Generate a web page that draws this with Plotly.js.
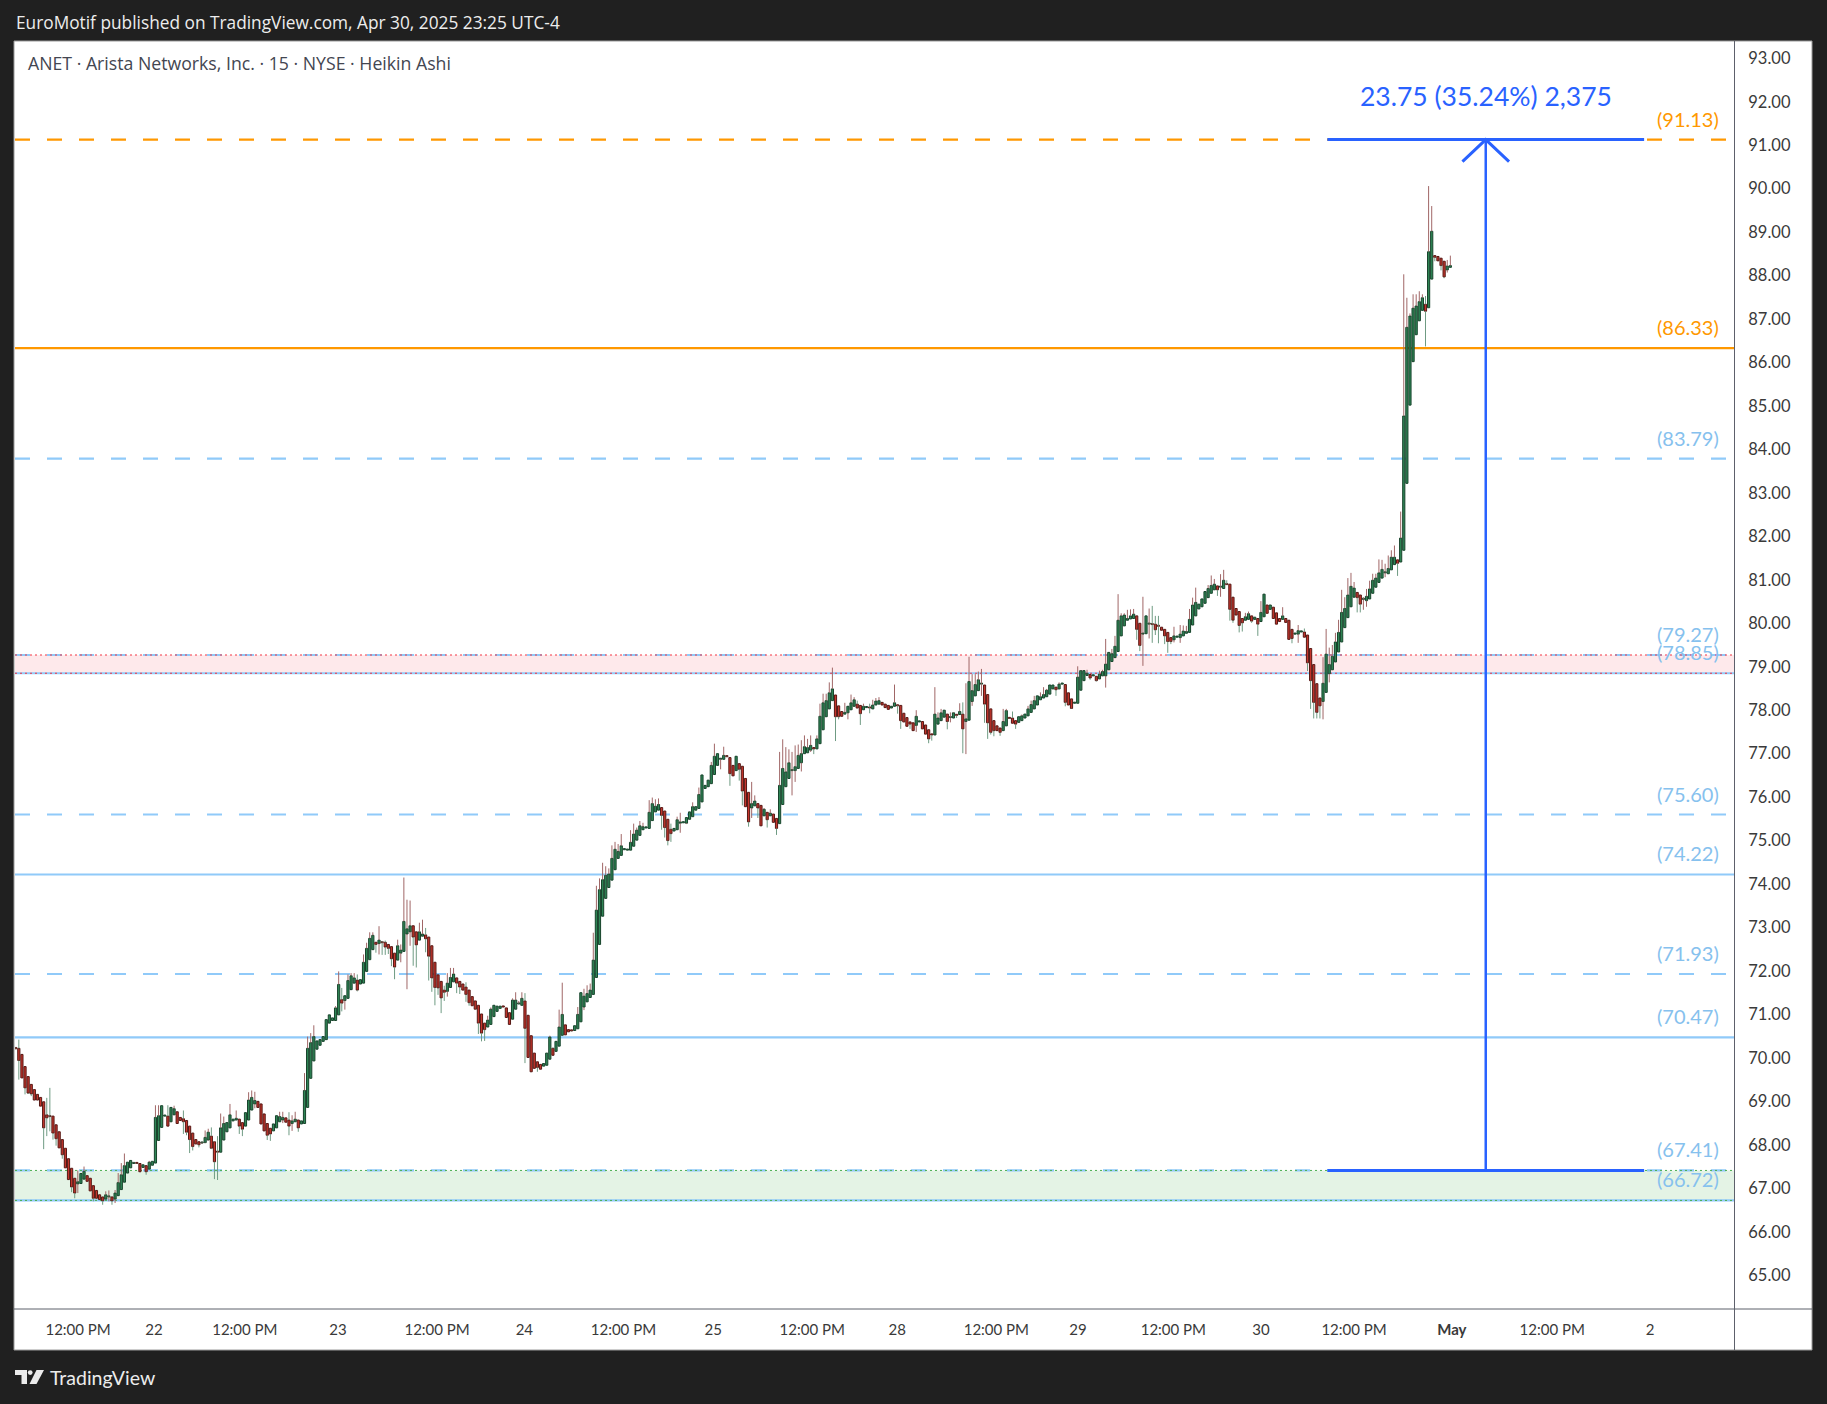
<!DOCTYPE html>
<html>
<head>
<meta charset="utf-8">
<script src="https://cdn.plot.ly/plotly-3.0.1.min.js"></script>
<style>
html,body{margin:0;padding:0;background:#202020;}
#chart{width:1827px;height:1404px;}
</style>
</head>
<body>
<div id="chart"></div>
<script>
// ---- Heikin Ashi 15-min candles (ANET) ----
const haOpen = [
70.24,70.22,70.08,69.80,69.57,69.39,69.27,69.16,69.09,68.99,
68.69,68.66,68.66,68.46,68.30,68.12,67.92,67.68,67.46,67.23,
67.10,67.11,67.21,67.29,67.23,67.06,66.95,66.85,66.80,66.75,
66.80,66.80,66.75,66.83,66.97,67.14,67.35,67.47,67.57,67.58,
67.57,67.48,67.52,67.44,67.53,67.58,68.10,68.40,68.66,68.66,
68.53,68.69,68.76,68.63,68.60,68.56,68.43,68.27,68.12,68.07,
68.04,68.05,68.11,68.20,68.07,67.84,67.83,68.11,68.30,68.39,
68.55,68.57,68.59,68.51,68.43,68.57,68.80,68.94,69.00,68.94,
68.71,68.49,68.38,68.32,68.39,68.53,68.57,68.62,68.57,68.49,
68.53,68.57,68.48,68.49,68.86,69.53,69.93,70.20,70.29,70.38,
70.42,70.80,70.86,70.86,70.99,71.34,71.32,71.37,71.57,71.72,
71.79,71.70,71.72,71.99,72.26,72.49,72.66,72.63,72.66,72.66,
72.61,72.56,72.41,72.25,72.41,72.45,72.85,72.90,73.04,72.90,
72.71,72.80,72.83,72.78,72.58,72.20,71.91,71.76,71.56,71.53,
71.62,71.75,71.84,71.76,71.70,71.63,71.56,71.41,71.31,71.21,
71.01,70.80,70.71,70.77,70.95,71.07,71.14,71.19,71.15,71.04,
70.89,71.12,71.24,71.21,71.31,70.98,70.51,70.11,69.91,69.85,
69.81,69.83,69.97,70.22,70.15,70.27,70.52,70.76,70.65,70.63,
70.63,70.67,70.83,71.17,71.29,71.39,71.46,71.85,72.61,73.26,
73.67,73.92,74.09,74.33,74.59,74.66,74.79,74.78,74.78,74.87,
75.01,75.12,75.25,75.29,75.28,75.46,75.66,75.70,75.76,75.68,
75.49,75.26,75.22,75.25,75.40,75.41,75.40,75.49,75.55,75.70,
75.74,75.89,76.20,76.24,76.31,76.52,76.73,76.87,76.87,76.94,
76.91,76.73,76.61,76.77,76.71,76.43,76.11,75.75,75.80,75.85,
75.81,75.57,75.65,75.57,75.61,75.51,75.39,75.83,76.24,76.43,
76.61,76.61,76.66,76.79,77.00,77.02,77.08,77.14,77.11,77.23,
77.55,77.85,78.03,78.22,78.35,78.10,77.97,77.91,77.94,78.01,
78.09,78.14,78.11,78.01,78.06,78.06,78.03,78.12,78.14,78.18,
78.14,78.11,78.05,78.09,78.11,78.11,77.93,77.83,77.73,77.71,
77.65,77.73,77.74,77.66,77.55,77.44,77.43,77.68,77.76,77.84,
77.91,77.83,77.82,77.89,77.90,77.91,77.74,77.77,78.20,78.33,
78.45,78.60,78.58,78.36,78.03,77.76,77.64,77.59,77.53,77.64,
77.82,77.82,77.76,77.72,77.76,77.82,77.87,77.95,78.03,78.12,
78.24,78.28,78.31,78.37,78.49,78.53,78.49,78.60,78.59,78.40,
78.26,78.16,78.16,78.46,78.68,78.80,78.82,78.79,78.78,78.72,
78.79,78.79,78.93,79.12,79.21,79.35,79.71,79.94,80.07,80.10,
80.11,80.17,80.00,79.75,79.76,79.98,79.98,79.98,79.94,79.91,
79.86,79.79,79.67,79.62,79.68,79.67,79.71,79.77,79.79,79.96,
80.17,80.33,80.38,80.46,80.59,80.69,80.77,80.86,80.83,80.80,
80.90,80.90,80.60,80.34,80.27,80.11,80.07,80.09,80.17,80.09,
80.11,80.04,80.15,80.42,80.32,80.37,80.24,80.11,80.09,80.11,
80.07,79.86,79.75,79.75,79.80,79.80,79.73,79.42,79.05,78.61,
78.28,78.20,78.41,78.84,78.93,79.11,79.34,79.57,79.90,80.13,
80.38,80.60,80.71,80.65,80.55,80.52,80.56,80.69,80.83,80.94,
81.04,81.16,81.14,81.23,81.35,81.46,81.41,81.68,83.22,85.02,
86.02,86.64,86.96,87.20,87.34,87.26,87.92,88.46,88.44,88.40,
88.33,88.13,88.19
];
const haHigh = [
70.25,70.42,70.08,69.80,69.57,69.39,69.27,69.16,69.09,68.99,
69.08,69.31,68.66,68.46,68.30,68.12,67.92,67.68,67.46,67.23,
67.41,67.34,67.50,67.29,67.23,67.06,66.95,66.85,66.80,66.93,
66.95,66.80,66.96,67.35,67.58,67.80,67.60,67.64,67.59,67.58,
67.57,67.54,67.52,67.63,67.62,68.91,68.91,68.90,68.67,68.91,
68.86,68.90,68.76,68.63,68.79,68.56,68.43,68.27,68.12,68.07,
68.07,68.33,68.37,68.40,68.08,68.20,68.72,68.65,68.51,68.94,
68.59,68.79,68.59,68.51,68.74,69.21,69.25,69.22,69.00,68.94,
68.71,68.49,68.38,68.48,68.67,68.76,68.76,68.62,68.75,68.68,
68.76,68.57,68.55,69.65,70.49,70.57,70.75,70.39,70.42,70.49,
70.88,70.99,70.92,71.19,71.99,71.61,71.43,71.92,71.95,71.95,
71.92,71.80,72.38,72.65,72.89,72.89,72.66,73.03,72.69,72.70,
72.61,72.56,72.41,72.72,72.61,74.15,73.64,73.62,73.04,72.90,
73.11,73.18,72.99,72.78,72.58,72.20,71.91,71.76,71.66,71.95,
72.07,72.07,71.84,71.76,71.70,71.74,71.56,71.41,71.31,71.21,
71.01,70.80,70.97,71.16,71.21,71.19,71.19,71.19,71.15,71.04,
71.37,71.51,71.31,71.51,71.49,70.98,70.51,70.11,69.91,69.85,
69.87,70.11,70.51,70.24,70.38,71.11,71.73,70.76,70.65,70.63,
70.74,71.17,71.50,71.59,71.67,71.71,72.88,73.96,74.13,74.49,
74.41,74.36,74.89,74.97,74.92,75.15,74.81,74.80,75.24,75.39,
75.30,75.45,75.41,75.31,75.93,75.99,75.95,75.97,75.76,75.68,
75.49,75.39,75.28,75.55,75.64,75.43,75.53,75.66,75.88,75.78,
76.22,76.51,76.27,76.39,76.81,77.23,77.00,76.88,77.16,76.95,
76.91,76.73,76.94,76.77,76.71,76.43,76.11,76.35,76.04,75.85,
75.81,75.75,75.65,75.72,75.61,75.51,77.04,77.33,77.15,77.10,
77.04,77.19,77.21,77.31,77.42,77.34,77.42,77.14,77.42,78.15,
78.38,78.38,78.64,78.98,78.35,78.10,77.97,78.17,78.09,78.36,
78.30,78.22,78.11,78.15,78.07,78.15,78.24,78.28,78.30,78.18,
78.14,78.11,78.09,78.59,78.12,78.11,77.93,77.83,77.73,77.71,
78.00,77.74,77.74,77.66,77.55,77.44,78.53,77.95,78.03,78.00,
77.91,77.95,77.95,77.89,78.16,78.18,78.62,79.23,78.83,78.83,
78.89,78.95,78.58,78.36,78.03,77.76,77.64,77.59,78.03,78.03,
77.82,77.97,77.76,77.85,77.90,77.91,78.10,78.22,78.33,78.33,
78.41,78.53,78.49,78.58,78.58,78.53,78.64,78.61,78.59,78.40,
78.26,78.17,79.01,78.92,78.91,78.93,78.82,78.80,78.78,78.91,
78.93,79.64,79.33,79.41,79.71,80.67,80.23,80.23,80.31,80.32,
80.33,80.17,80.00,80.61,80.17,80.34,80.40,80.17,80.17,79.91,
79.86,79.79,79.67,79.92,79.69,79.96,79.95,79.94,80.33,80.59,
80.82,80.44,80.56,80.73,80.88,81.10,81.02,80.86,81.13,81.23,
80.99,80.90,80.60,80.34,80.27,80.11,80.24,80.27,80.17,80.14,
80.11,80.51,80.67,80.42,80.42,80.37,80.24,80.11,80.37,80.11,
80.07,79.86,79.76,79.96,79.81,79.88,79.73,79.42,79.05,78.61,
78.28,79.22,79.87,79.44,79.50,79.78,80.08,80.77,80.60,81.04,
81.16,80.95,80.71,80.65,80.60,80.79,80.98,81.14,81.14,81.47,
81.46,81.37,81.56,81.68,81.79,81.46,82.57,88.03,87.49,87.13,
87.57,87.57,87.64,87.57,87.53,90.06,89.60,88.46,88.44,88.40,
88.33,88.36,88.46
];
const haLow = [
70.20,69.50,69.54,69.16,69.17,69.12,69.03,69.03,68.89,67.90,
68.20,68.31,68.12,67.98,67.93,67.68,67.47,67.20,66.91,66.77,
66.89,67.11,67.21,67.16,66.94,66.70,66.77,66.74,66.62,66.75,
66.70,66.62,66.66,66.83,66.97,67.14,67.35,67.47,67.57,67.56,
67.38,67.48,67.31,67.44,67.53,67.58,68.10,68.40,68.66,68.43,
68.53,68.69,68.49,68.56,68.25,68.22,67.81,67.87,68.02,67.94,
68.02,68.04,68.10,67.90,67.21,67.19,67.83,68.11,68.30,68.39,
68.55,68.57,68.25,68.20,68.43,68.57,68.80,68.84,68.86,68.48,
68.32,68.11,68.09,68.32,68.39,68.53,68.50,68.52,68.22,68.32,
68.53,68.30,68.48,68.49,68.86,69.53,69.93,70.20,70.29,70.38,
70.42,70.80,70.86,70.86,70.99,71.07,71.11,71.37,71.57,71.72,
71.53,71.70,71.72,71.99,72.26,72.49,72.42,72.38,72.37,72.37,
72.39,72.11,71.81,72.25,72.20,72.45,71.58,72.58,72.12,72.08,
72.71,72.80,72.43,71.78,71.52,71.21,71.45,71.03,71.31,71.41,
71.62,71.75,71.49,71.47,71.56,71.29,71.20,71.20,71.11,70.55,
70.38,70.39,70.71,70.77,70.95,71.07,71.14,71.17,70.93,70.77,
70.89,71.12,71.24,71.21,69.88,70.01,69.68,69.76,69.68,69.74,
69.81,69.83,69.97,70.06,70.15,70.27,70.52,70.53,70.60,70.61,
70.63,70.67,70.83,71.10,71.29,71.39,71.46,71.85,72.61,73.26,
73.67,73.92,74.09,74.33,74.59,74.66,74.79,74.78,74.78,74.87,
75.01,75.12,75.25,75.29,75.28,75.46,75.66,75.70,75.25,75.07,
74.89,74.97,75.22,75.25,75.18,75.41,75.38,75.49,75.55,75.70,
75.74,75.89,76.20,76.24,76.31,76.52,76.73,76.64,76.87,76.93,
76.26,76.49,76.61,76.38,75.81,75.78,75.32,75.52,75.80,75.52,
75.34,75.57,75.30,75.57,75.42,75.13,75.39,75.83,76.24,76.43,
76.04,76.35,76.66,76.59,77.00,77.02,77.04,76.99,77.11,77.23,
77.55,77.85,78.03,78.22,77.29,77.79,77.86,77.91,77.79,78.01,
78.09,78.05,77.66,78.01,78.06,77.93,78.03,78.12,78.14,78.12,
78.06,78.02,78.05,78.09,77.92,77.57,77.73,77.63,77.57,77.53,
77.50,77.73,77.57,77.45,77.24,77.30,77.43,77.68,77.76,77.84,
77.56,77.72,77.82,77.82,77.90,77.01,76.99,77.77,78.10,78.33,
78.45,78.33,77.71,77.34,77.44,77.40,77.53,77.41,77.53,77.64,
77.80,77.70,77.57,77.72,77.76,77.82,77.87,77.95,78.03,78.12,
78.24,78.28,78.31,78.37,78.49,78.33,78.49,78.60,78.09,78.12,
78.03,78.16,78.16,78.46,78.68,78.80,78.70,78.79,78.66,78.72,
78.79,78.52,78.93,79.12,79.21,79.35,79.71,79.94,80.07,80.10,
80.11,79.62,79.36,79.02,79.76,79.65,79.55,79.73,79.54,79.84,
79.52,79.32,79.52,79.56,79.68,79.55,79.71,79.77,79.79,79.96,
80.17,80.33,80.38,80.46,80.59,80.69,80.77,80.63,80.61,80.80,
80.89,80.06,80.01,80.19,79.79,79.81,80.07,80.09,80.01,80.09,
79.71,80.04,80.15,80.23,80.32,80.11,79.98,80.04,80.09,80.02,
79.63,79.54,79.75,79.55,79.80,79.68,78.90,78.03,77.81,77.81,
77.81,77.79,78.41,78.64,78.93,79.11,79.34,79.57,79.90,80.13,
80.38,80.60,80.25,80.25,80.31,80.38,80.56,80.69,80.83,80.94,
81.04,81.06,81.14,81.23,81.35,81.09,81.41,81.68,83.22,85.02,
86.02,86.64,86.96,87.20,86.37,87.26,87.92,88.33,88.34,88.12,
87.94,88.07,88.19
];
const haClose = [
70.21,69.94,69.54,69.31,69.19,69.17,69.03,69.03,68.89,68.39,
68.62,68.65,68.27,68.14,67.93,67.77,67.47,67.20,67.03,66.89,
67.15,67.34,67.39,67.16,66.94,66.77,66.77,66.74,66.71,66.85,
66.81,66.71,66.89,67.13,67.31,67.52,67.60,67.64,67.58,67.57,
67.38,67.54,67.38,67.60,67.62,68.63,68.67,68.90,68.67,68.43,
68.86,68.83,68.49,68.56,68.53,68.29,68.12,67.96,68.02,68.00,
68.05,68.17,68.29,67.92,67.61,67.83,68.39,68.49,68.51,68.69,
68.59,68.61,68.43,68.36,68.74,69.03,69.09,69.02,68.86,68.48,
68.32,68.22,68.25,68.48,68.67,68.65,68.63,68.52,68.43,68.55,
68.59,68.39,68.55,69.25,70.22,70.35,70.49,70.39,70.42,70.49,
70.88,70.99,70.92,71.15,71.69,71.26,71.43,71.78,71.89,71.84,
71.56,71.80,72.20,72.52,72.75,72.82,72.61,72.71,72.65,72.55,
72.52,72.28,72.09,72.58,72.48,73.14,72.97,73.04,72.78,72.60,
72.90,72.85,72.74,72.34,71.84,71.62,71.61,71.38,71.51,71.72,
71.85,71.93,71.72,71.63,71.56,71.46,71.27,71.20,71.12,70.80,
70.57,70.65,70.87,71.12,71.21,71.19,71.19,71.17,70.93,70.77,
71.33,71.33,71.25,71.37,70.68,70.01,69.68,69.76,69.78,69.74,
69.87,70.11,70.48,70.06,70.38,70.71,71.00,70.53,70.60,70.62,
70.74,71.00,71.50,71.42,71.48,71.56,72.25,73.40,73.87,74.10,
74.20,74.23,74.59,74.80,74.75,74.88,74.81,74.80,74.96,75.15,
75.24,75.34,75.32,75.31,75.65,75.85,75.79,75.83,75.58,75.30,
75.00,75.16,75.28,75.48,75.43,75.43,75.53,75.66,75.78,75.78,
76.06,76.51,76.27,76.39,76.73,76.94,77.00,76.88,76.96,76.93,
76.54,76.49,76.94,76.64,76.14,75.78,75.43,75.85,75.91,75.75,
75.34,75.72,75.48,75.63,75.42,75.28,76.27,76.66,76.58,76.79,
76.62,76.70,76.96,77.00,77.16,77.14,77.19,77.11,77.34,77.86,
78.17,78.22,78.40,78.49,77.85,77.85,77.86,77.95,78.09,78.17,
78.24,78.05,77.92,78.09,78.07,78.05,78.12,78.21,78.22,78.12,
78.06,78.02,78.09,78.17,78.10,77.76,77.73,77.63,77.68,77.53,
77.86,77.74,77.57,77.45,77.34,77.43,77.91,77.82,77.94,78.00,
77.74,77.84,77.94,77.88,77.97,77.57,77.80,78.66,78.45,78.59,
78.70,78.61,78.14,77.71,77.49,77.53,77.53,77.49,77.74,77.99,
77.81,77.70,77.68,77.85,77.87,77.91,78.03,78.13,78.22,78.33,
78.31,78.36,78.46,78.58,78.58,78.47,78.60,78.61,78.18,78.12,
78.04,78.17,78.76,78.91,78.91,78.85,78.74,78.80,78.68,78.83,
78.89,79.06,79.33,79.30,79.47,80.07,80.17,80.19,80.11,80.17,
80.21,79.86,79.49,79.77,80.17,79.99,79.97,79.85,79.93,79.84,
79.71,79.58,79.58,79.71,79.69,79.75,79.82,79.81,80.09,80.42,
80.48,80.44,80.56,80.73,80.80,80.87,80.90,80.77,80.84,80.99,
80.89,80.32,80.07,80.19,79.95,80.01,80.15,80.22,80.05,80.14,
79.98,80.25,80.67,80.23,80.42,80.11,79.98,80.04,80.17,80.02,
79.63,79.65,79.76,79.83,79.81,79.68,79.09,78.68,78.18,77.95,
78.10,78.62,79.29,79.05,79.24,79.57,79.79,80.25,80.34,80.65,
80.85,80.81,80.59,80.44,80.56,80.62,80.79,80.99,81.04,81.16,
81.24,81.17,81.26,81.52,81.52,81.38,81.96,84.77,86.81,87.07,
87.25,87.30,87.40,87.49,87.18,88.55,89.02,88.42,88.34,88.23,
87.97,88.22,88.23
];

// time-axis labels (bar position of each label, label text)
const timeTickBars = [20.1, 44.5, 73.8, 103.8, 135.7, 163.8, 195.7, 224.6, 256.5, 283.9, 315.8, 342.1, 372.8, 401.0, 431.0, 462.5, 494.8, 526.3];
const timeTickText = ['12:00 PM','22','12:00 PM','23','12:00 PM','24','12:00 PM','25','12:00 PM','28','12:00 PM','29','12:00 PM','30','12:00 PM','<b>May</b>','12:00 PM','2'];

// horizontal price levels drawn on the chart
const levelPrices = [91.13, 86.33, 83.79, 79.27, 78.85, 75.60, 74.22, 71.93, 70.47, 67.41, 66.72];
const levelColorKey = ['orange','orange','blue','blue','blue','blue','blue','blue','blue','blue','blue'];
const levelDashed = [true, false, true, true, false, true, false, true, false, true, false];

// shaded zones
const zoneLow = [78.85, 66.72];
const zoneHigh = [79.27, 67.41];

// price-range measurement
const measureFrom = 67.41;
const measureTo = 91.13;
const measureStartBar = 422.4;
const measureEndBar = 524.4;
const measureLabel = '23.75 (35.24%) 2,375';

const headerText = 'EuroMotif published on TradingView.com, Apr 30, 2025 23:25 UTC-4';
const symbolText = 'ANET · Arista Networks, Inc. · 15 · NYSE · Heikin Ashi';

// ---------------- drawing ----------------
const W = 1827, H = 1404;
const M = {l: 15, r: 92, t: 41, b: 95};
const PW = W - M.l - M.r, PH = H - M.t - M.b;
const px2x = p => (p - M.l) / PW;
const px2y = p => (H - M.b - p) / PH;
const FONT = 'Lato, "Open Sans", sans-serif';
const TFONT = '"Open Sans", Lato, sans-serif';

const C = {
  upFill: '#2f8656', upLine: '#17432b', upWick: '#a06666',
  dnFill: '#c5352c', dnLine: '#551814', dnWick: '#6f9b83',
  orange: '#ff9800', blue: '#90caf9', blueText: '#86c1ee', measure: '#2962ff',
  pinkZone: 'rgba(242,54,69,0.11)', pinkEdge: '#f23645',
  greenZone: 'rgba(76,175,80,0.15)', greenEdge: '#4caf50'
};
const BODY_W = 0.7, MIN_BODY = 0.025;

const upIdx = [], dnIdx = [];
haOpen.forEach((o, i) => (haClose[i] >= o ? upIdx : dnIdx).push(i));

function bodies(list, fill, line) {
  return {
    type: 'bar', x: list, width: BODY_W,
    base: list.map(i => Math.min(haOpen[i], haClose[i])),
    y: list.map(i => Math.max(Math.abs(haClose[i] - haOpen[i]), MIN_BODY)),
    marker: {color: fill, line: {color: line, width: 1}},
    hoverinfo: 'skip'
  };
}
function wicks(list, color) {
  const x = [], y = [];
  list.forEach(i => {
    const top = Math.max(haOpen[i], haClose[i]), bot = Math.min(haOpen[i], haClose[i]);
    if (haHigh[i] > top) { x.push(i, i, null); y.push(top, haHigh[i], null); }
    if (haLow[i] < bot) { x.push(i, i, null); y.push(haLow[i], bot, null); }
  });
  return {type: 'scatter', mode: 'lines', x, y, line: {color, width: 1}, hoverinfo: 'skip', connectgaps: false};
}

const traces = [
  bodies(upIdx, C.upFill, C.upLine),
  bodies(dnIdx, C.dnFill, C.dnLine),
  wicks(upIdx, C.upWick),
  wicks(dnIdx, C.dnWick)
];

const shapes = [];
const annotations = [];

// white chart panel (plot + axes) with thin frame
shapes.push({type: 'rect', xref: 'paper', yref: 'paper', layer: 'below',
  x0: px2x(14), x1: px2x(1812), y0: px2y(1350), y1: px2y(41),
  fillcolor: '#ffffff', line: {color: '#9a9a9a', width: 1}});

// zones
zoneLow.forEach((lo, k) => {
  const fill = k === 0 ? C.pinkZone : C.greenZone;
  shapes.push({type: 'rect', xref: 'paper', yref: 'y', layer: 'below', x0: 0, x1: 1,
    y0: lo, y1: zoneHigh[k], fillcolor: fill, line: {width: 0}});
});

// level lines + labels
levelPrices.forEach((p, k) => {
  const col = levelColorKey[k] === 'orange' ? C.orange : C.blue;
  shapes.push({type: 'line', xref: 'paper', yref: 'y', layer: 'below', x0: 0, x1: 1, y0: p, y1: p,
    line: {color: col, width: 2.2, dash: levelDashed[k] ? '15px,17px' : 'solid'}});
  annotations.push({xref: 'paper', yref: 'y', x: px2x(1721), y: p, yshift: 21,
    xanchor: 'right', yanchor: 'middle', showarrow: false,
    text: '(' + p.toFixed(2) + ')',
    font: {family: FONT, size: 20, color: levelColorKey[k] === 'orange' ? C.orange : C.blueText}});
});
// dotted zone edges
zoneLow.forEach((lo, k) => {
  const edge = k === 0 ? C.pinkEdge : C.greenEdge;
  [lo, zoneHigh[k]].forEach(v => shapes.push({type: 'line', xref: 'paper', yref: 'y', layer: 'below',
    x0: 0, x1: 1, y0: v, y1: v, line: {color: edge, width: 1, dash: '2px,3px'}}));
});

// measurement tool
const mid = (measureStartBar + measureEndBar) / 2;
const pxPerBar = PW / 553.9;
const pxPerPrice = PH / 29.176;
const armX = 23.3 / pxPerBar, armY = 22 / pxPerPrice;
[measureFrom, measureTo].forEach(v => shapes.push({type: 'line', xref: 'x', yref: 'y', layer: 'above',
  x0: measureStartBar, x1: measureEndBar, y0: v, y1: v, line: {color: C.measure, width: 3}}));
shapes.push({type: 'line', xref: 'x', yref: 'y', layer: 'above', x0: mid, x1: mid,
  y0: measureFrom, y1: measureTo, line: {color: C.measure, width: 2.5}});
shapes.push({type: 'path', xref: 'x', yref: 'y', layer: 'above',
  path: `M ${mid - armX} ${measureTo - armY} L ${mid} ${measureTo} L ${mid + armX} ${measureTo - armY}`,
  line: {color: C.measure, width: 3}});
annotations.push({xref: 'x', yref: 'y', x: mid, y: measureTo, yshift: 44, showarrow: false,
  xanchor: 'center', yanchor: 'middle', text: measureLabel,
  font: {family: FONT, size: 26.5, color: C.measure}});

// axis separators
shapes.push({type: 'line', xref: 'paper', yref: 'paper', layer: 'above',
  x0: px2x(1734.5), x1: px2x(1734.5), y0: px2y(41), y1: px2y(1350), line: {color: '#5d606b', width: 1}});
shapes.push({type: 'line', xref: 'paper', yref: 'paper', layer: 'above',
  x0: px2x(14), x1: px2x(1812), y0: px2y(1309), y1: px2y(1309), line: {color: '#5d606b', width: 1}});

// TradingView logo (white glyph)
const logo = {type: 'path', xref: 'paper', yref: 'paper', layer: 'above', fillcolor: '#ececec', line: {width: 0}};
shapes.push(Object.assign({}, logo, {path:
  `M ${px2x(15)} ${px2y(1370)} L ${px2x(27)} ${px2y(1370)} L ${px2x(27)} ${px2y(1384)} L ${px2x(21.5)} ${px2y(1384)} L ${px2x(21.5)} ${px2y(1375)} L ${px2x(15)} ${px2y(1375)} Z`}));
shapes.push(Object.assign({}, logo, {type: 'circle', x0: px2x(27.8), x1: px2x(32.6), y0: px2y(1375), y1: px2y(1370.2)}));
shapes.push(Object.assign({}, logo, {path:
  `M ${px2x(36.5)} ${px2y(1370)} L ${px2x(44)} ${px2y(1370)} L ${px2x(36.5)} ${px2y(1384)} L ${px2x(29.5)} ${px2y(1384)} Z`}));

annotations.push({xref: 'paper', yref: 'paper', x: px2x(14), y: px2y(22), xanchor: 'left', yanchor: 'middle',
  showarrow: false, text: headerText, font: {family: TFONT, size: 17.3, color: '#ededed'}});
annotations.push({xref: 'paper', yref: 'paper', x: px2x(26), y: px2y(63), xanchor: 'left', yanchor: 'middle',
  showarrow: false, text: symbolText, font: {family: TFONT, size: 17.7, color: '#434651'}});
annotations.push({xref: 'paper', yref: 'paper', x: px2x(47.5), y: px2y(1377), xanchor: 'left', yanchor: 'middle',
  showarrow: false, text: 'TradingView', font: {family: FONT, size: 19.5, color: '#ececec'}});

const layout = {
  width: W, height: H, margin: M,
  paper_bgcolor: '#202020', plot_bgcolor: '#ffffff',
  showlegend: false, barmode: 'overlay', hovermode: false,
  xaxis: {
    range: [-0.23, 553.67], tickmode: 'array', tickvals: timeTickBars, ticktext: timeTickText,
    showgrid: false, zeroline: false, showline: false,
    ticks: 'outside', ticklen: 7, tickcolor: 'rgba(0,0,0,0)',
    tickfont: {family: FONT, size: 15, color: '#3a3a3a'}, fixedrange: true
  },
  yaxis: {
    side: 'right', range: [93.398 - 29.176, 93.398], tick0: 65, dtick: 1, tickformat: '.2f',
    showgrid: false, zeroline: false, showline: false,
    ticks: 'outside', ticklen: 9, tickcolor: 'rgba(0,0,0,0)',
    tickfont: {family: FONT, size: 16.5, color: '#3a3a3a'}, fixedrange: true
  },
  shapes, annotations
};

Plotly.newPlot('chart', traces, layout, {displayModeBar: false, staticPlot: true});
</script>
</body>
</html>
